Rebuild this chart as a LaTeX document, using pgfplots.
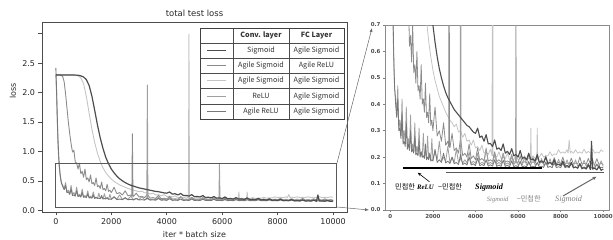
\documentclass[border=0pt]{standalone}
\usepackage{fontspec}
\setmainfont{DejaVu Sans}
\newfontfamily\cjk{Noto Sans CJK KR}
\newfontfamily\serifit{Liberation Serif}
\usepackage{pgfplots}
\usepackage{pgfplotstable}
\pgfplotsset{compat=1.18}
\usetikzlibrary{arrows.meta}
\definecolor{cA}{HTML}{4D4D4D}
\definecolor{cB}{HTML}{8C8C8C}
\definecolor{cC}{HTML}{C4C4C4}
\definecolor{cD}{HTML}{A0A0A0}
\definecolor{cE}{HTML}{777777}

\pgfplotstableread{
x y
0 2.30
200 2.30
400 2.30
600 2.30
800 2.295
900 2.285
1000 2.265
1100 2.22
1200 2.12
1300 1.94
1400 1.70
1500 1.45
1600 1.23
1700 1.05
1800 0.90
1900 0.79
2000 0.70
2100 0.635
2200 0.58
2300 0.535
2400 0.50
2500 0.47
2600 0.445
2700 0.425
2800 0.41
2900 0.395
3000 0.38
3100 0.37
3200 0.36
3300 0.35
3400 0.34
3500 0.33
3600 0.32
3700 0.315
3800 0.305
3900 0.295
4000 0.29
4100 0.31
4200 0.275
4300 0.28
4400 0.26
4500 0.285
4600 0.25
4700 0.252
4800 0.24
4900 0.265
5000 0.23
5100 0.235
5200 0.225
5300 0.25
5400 0.215
5500 0.222
5600 0.21
5700 0.232
5800 0.205
5900 0.21
6000 0.20
6100 0.225
6200 0.195
6300 0.20
6400 0.19
6500 0.215
6600 0.19
6700 0.193
6800 0.185
6900 0.21
7000 0.18
7100 0.186
7200 0.18
7300 0.2
7400 0.175
7500 0.18
7600 0.172
7700 0.19
7800 0.17
7900 0.173
8000 0.168
8100 0.185
8200 0.165
8300 0.168
8400 0.163
8500 0.18
8600 0.16
8700 0.163
8800 0.158
8900 0.175
9000 0.156
9100 0.16
9200 0.155
9300 0.17
9400 0.153
9450 0.26
9500 0.155
9600 0.158
9700 0.152
9800 0.166
9900 0.15
10000 0.155
}\tA

\pgfplotstableread{
x y
0 2.30
100 2.30
200 2.295
250 2.27
300 2.18
350 1.98
400 1.74
450 1.50
500 1.30
550 1.13
600 0.99
650 1.02
700 0.82
750 0.80
800 0.70
850 0.80
900 0.62
950 0.66
1000 0.56
1050 0.70
1100 0.52
1150 0.55
1200 0.48
1250 0.60
1300 0.45
1350 0.47
1400 0.42
1450 0.55
1500 0.40
1550 0.42
1600 0.37
1650 0.48
1700 0.35
1750 0.37
1800 0.33
1850 0.44
1900 0.32
1950 0.34
2000 0.30
2100 0.39
2200 0.28
2300 0.30
2400 0.26
2500 0.33
2600 0.245
2700 0.26
2740 0.24
2760 1.30
2780 0.24
2800 0.235
2900 0.29
3000 0.225
3100 0.235
3200 0.215
3300 0.27
3400 0.205
3500 0.215
3600 0.20
3700 0.25
3800 0.195
3900 0.205
4000 0.19
4100 0.235
4200 0.188
4300 0.195
4400 0.186
4500 0.23
4600 0.185
4700 0.19
4800 0.184
4900 0.22
5000 0.183
5100 0.19
5200 0.182
5300 0.215
5400 0.181
5500 0.186
5600 0.18
5700 0.21
5800 0.18
5900 0.185
6000 0.179
6100 0.205
6200 0.179
6300 0.183
6400 0.178
6500 0.21
6600 0.178
6700 0.182
6800 0.177
6900 0.2
7000 0.177
7100 0.18
7200 0.176
7300 0.205
7400 0.176
7500 0.18
7600 0.176
7700 0.198
7800 0.175
7900 0.18
8000 0.175
8100 0.2
8200 0.175
8300 0.178
8400 0.174
8500 0.196
8600 0.174
8700 0.178
8800 0.174
8900 0.2
9000 0.173
9100 0.177
9200 0.173
9300 0.195
9400 0.173
9500 0.176
9600 0.172
9700 0.194
9800 0.172
9900 0.176
10000 0.172
}\tB

\pgfplotstableread{
x y
0 2.30
200 2.30
400 2.30
600 2.30
700 2.295
800 2.285
900 2.25
1000 2.15
1100 1.93
1200 1.65
1300 1.38
1400 1.15
1500 0.97
1600 0.83
1700 0.72
1800 0.64
1900 0.58
2000 0.53
2100 0.49
2200 0.46
2300 0.43
2400 0.41
2500 0.39
2600 0.37
2700 0.355
2800 0.34
2900 0.33
3000 0.315
3100 0.325
3200 0.295
3300 0.30
3400 0.275
3500 0.29
3600 0.26
3700 0.265
3800 0.245
3900 0.265
4000 0.235
4100 0.24
4200 0.225
4300 0.245
4400 0.215
4500 0.22
4600 0.21
4700 0.23
4780 0.205
4800 3.00
4820 0.205
4900 0.21
5000 0.20
5100 0.22
5200 0.195
5300 0.20
5400 0.195
5500 0.215
5600 0.19
5700 0.195
5800 0.19
5900 0.21
6000 0.19
6100 0.195
6200 0.19
6300 0.205
6400 0.19
6500 0.195
6580 0.195
6600 0.31
6620 0.195
6700 0.205
6800 0.195
6880 0.20
6900 0.31
6920 0.20
7000 0.20
7100 0.215
7200 0.20
7300 0.205
7400 0.205
7500 0.22
7600 0.205
7700 0.212
7800 0.21
7900 0.228
8000 0.215
8100 0.22
8200 0.215
8300 0.228
8350 0.215
8400 0.265
8450 0.215
8500 0.222
8600 0.215
8700 0.228
8800 0.215
8900 0.22
9000 0.215
9100 0.23
9200 0.215
9300 0.222
9400 0.215
9500 0.23
9600 0.215
9700 0.22
9800 0.215
9900 0.228
10000 0.22
}\tC

\pgfplotstableread{
x y
0 2.30
25 2.00
50 1.55
75 1.15
100 0.88
125 0.72
150 0.60
175 0.52
200 0.46
250 0.42
300 0.36
350 0.47
400 0.31
450 0.34
500 0.28
550 0.42
600 0.26
650 0.30
700 0.25
750 0.39
800 0.24
850 0.27
900 0.23
950 0.36
1000 0.22
1050 0.25
1100 0.22
1150 0.33
1200 0.21
1250 0.24
1300 0.21
1350 0.31
1400 0.205
1450 0.22
1500 0.20
1550 0.29
1600 0.20
1650 0.22
1700 0.195
1750 0.28
1800 0.195
1850 0.21
1900 0.19
1950 0.27
2000 0.19
2100 0.22
2200 0.19
2300 0.26
2400 0.185
2500 0.20
2600 0.185
2700 0.24
2800 0.18
2900 0.20
3000 0.18
3100 0.23
3200 0.18
3280 0.19
3300 2.13
3320 0.19
3400 0.178
3500 0.19
3600 0.178
3700 0.22
3800 0.176
3900 0.185
4000 0.176
4100 0.215
4200 0.175
4300 0.18
4400 0.175
4500 0.235
4600 0.174
4700 0.18
4800 0.174
4900 0.21
5000 0.173
5100 0.18
5200 0.173
5300 0.215
5400 0.172
5500 0.178
5600 0.172
5700 0.205
5800 0.172
5880 0.18
5900 0.78
5920 0.18
6000 0.171
6100 0.178
6200 0.171
6300 0.2
6400 0.17
6500 0.176
6600 0.17
6700 0.2
6800 0.17
6900 0.176
7000 0.17
7100 0.195
7200 0.169
7300 0.175
7400 0.169
7500 0.194
7600 0.168
7700 0.174
7800 0.168
7900 0.192
8000 0.168
8100 0.174
8200 0.167
8300 0.19
8400 0.167
8500 0.173
8600 0.167
8700 0.19
8800 0.166
8900 0.172
9000 0.166
9100 0.188
9200 0.166
9300 0.172
9400 0.165
9500 0.19
9600 0.165
9700 0.171
9800 0.165
9900 0.186
10000 0.165
}\tD

\pgfplotstableread{
x y
0 2.42
25 2.05
50 1.60
75 1.22
100 0.95
125 0.76
150 0.63
175 0.54
200 0.47
250 0.40
300 0.35
350 0.42
400 0.30
450 0.31
500 0.27
550 0.36
600 0.25
650 0.26
700 0.24
750 0.33
800 0.23
850 0.25
900 0.225
950 0.30
1000 0.22
1050 0.23
1100 0.215
1150 0.28
1200 0.21
1250 0.215
1300 0.205
1350 0.26
1400 0.20
1450 0.22
1500 0.20
1550 0.205
1600 0.195
1650 0.25
1700 0.19
1750 0.20
1800 0.19
1850 0.215
1900 0.185
1950 0.19
2000 0.185
2100 0.23
2200 0.18
2300 0.19
2400 0.18
2500 0.215
2600 0.178
2700 0.185
2800 0.176
2900 0.20
3000 0.175
3100 0.18
3200 0.172
3300 0.21
3400 0.172
3500 0.178
3600 0.17
3700 0.2
3800 0.17
3900 0.175
4000 0.168
4100 0.196
4200 0.168
4300 0.172
4400 0.168
4500 0.19
4600 0.166
4700 0.171
4800 0.166
4900 0.19
5000 0.165
5100 0.17
5200 0.165
5300 0.188
5400 0.165
5500 0.169
5600 0.164
5700 0.186
5800 0.164
5900 0.168
6000 0.163
6100 0.185
6200 0.163
6300 0.167
6400 0.163
6500 0.184
6600 0.162
6700 0.166
6800 0.162
6900 0.18
7000 0.162
7100 0.166
7200 0.161
7300 0.182
7400 0.161
7500 0.165
7600 0.16
7700 0.18
7800 0.16
7900 0.164
8000 0.16
8100 0.178
8200 0.16
8300 0.164
8400 0.16
8500 0.178
8600 0.159
8700 0.163
8800 0.159
8900 0.176
9000 0.159
9100 0.163
9200 0.159
9300 0.176
9400 0.158
9500 0.162
9600 0.158
9700 0.174
9800 0.158
9900 0.162
10000 0.16
}\tE

\begin{document}
\begin{tikzpicture}
\path[use as bounding box] (0,0) rectangle (613bp,240bp);

% ---------- left axis ----------
\begin{axis}[
  at={(42bp,28bp)}, anchor=south west,
  scale only axis, width=305bp, height=190bp,
  xmin=-500, xmax=10500, ymin=-0.03, ymax=3.2,
  scaled x ticks=false, scaled y ticks=false,
  axis line style={black!70, line width=0.6pt},
  tick align=outside, major tick length=3.5bp,
  tick style={black!70, line width=0.6pt},
  xtick={0,2000,4000,6000,8000,10000},
  xticklabels={0,2000,4000,6000,8000,10000},
  ytick={0,0.5,1,1.5,2,2.5,3},
  yticklabels={0.0,0.5,1.0,1.5,2.0,2.5,{}},
  ticklabel style={font=\fontsize{8}{9.6}\selectfont, text=black!85},
  xtick pos=bottom, ytick pos=left,
  every axis plot/.append style={line join=round},
]
\addplot[cC, line width=0.9bp] table {\tC};
\addplot[cB, line width=0.9bp] table {\tB};
\addplot[cD, line width=0.9bp] table {\tD};
\addplot[cE, line width=0.9bp] table {\tE};
\addplot[cA, line width=1.2bp] table {\tA};
\draw[black!65, line width=0.6pt] (axis cs:-20,0.045) rectangle (axis cs:10100,0.79);
\end{axis}

% ---------- right axis ----------
\begin{axis}[
  at={(385bp,30bp)}, anchor=south west,
  scale only axis, width=224bp, height=185bp,
  xmin=-250, xmax=10270, ymin=0, ymax=0.7,
  scaled x ticks=false, scaled y ticks=false,
  axis line style={black!45, line width=0.7pt},
  tick align=outside, major tick length=2bp,
  tick style={black!50, line width=0.5pt},
  xtick={0,2000,4000,6000,8000,10000},
  xticklabels={0,2000,4000,6000,8000,10000},
  ytick={0,0.1,0.2,0.3,0.4,0.5,0.6,0.7},
  yticklabels={0.0,0.1,0.2,0.3,0.4,0.5,0.6,0.7},
  ticklabel style={font=\fontsize{5.5}{6.5}\selectfont\bfseries, text=black!70},
  xticklabel style={yshift=1bp},
  yticklabel style={xshift=1bp},
  xtick pos=bottom, ytick pos=left,
  every axis plot/.append style={line join=round},
]
\addplot[cC, line width=0.8bp] table {\tC};
\addplot[cB, line width=0.8bp] table {\tB};
\addplot[cD, line width=0.8bp] table {\tD};
\addplot[cE, line width=0.8bp] table {\tE};
\addplot[cA, line width=1.1bp] table {\tA};
\draw[black, line width=1.1bp] (axis cs:600,0.159) -- (axis cs:7100,0.159);
\draw[black!65, line width=1.6bp] (axis cs:2600,0.142) -- (axis cs:10050,0.142);
% annotation 1
\begin{scope}[every node/.style={anchor=base west, inner sep=0pt}]
\node[font=\cjk\fontsize{7.2}{8}\selectfont] at (axis cs:220,0.078) {민첩한};
\node[font=\serifit\fontsize{6.8}{8}\selectfont\bfseries\itshape] at (axis cs:1253,0.078) {ReLU};
\node[font=\cjk\fontsize{7.2}{8}\selectfont] at (axis cs:2239,0.078) {−민첩한};
\node[font=\serifit\fontsize{8.2}{9}\selectfont\bfseries\itshape] at (axis cs:3977,0.078) {Sigmoid};
% annotation 2
\node[font=\serifit\fontsize{6.6}{8}\selectfont\itshape, text=black!50] at (axis cs:4526,0.031) {Sigmoid};
\node[font=\cjk\fontsize{7.2}{8}\selectfont, text=black!50] at (axis cs:5935,0.031) {−민첩한};
\node[font=\serifit\fontsize{8.2}{9}\selectfont\itshape, text=black!50] at (axis cs:7734,0.031) {Sigmoid};
\end{scope}
\draw[-{Stealth[length=3.5bp,width=3bp]}, black, line width=0.6bp] (axis cs:1835,0.107) -- (axis cs:1290,0.141);
\draw[-{Stealth[length=4bp,width=3.5bp]}, black!60, line width=1bp] (axis cs:8110,0.053) -- (axis cs:9680,0.126);
\end{axis}

% ---------- titles and labels ----------
\node[anchor=base, font=\fontsize{8.5}{10}\selectfont, text=black!85] at (194.5bp,223.5bp) {total test loss};
\node[anchor=base, font=\fontsize{8}{9.6}\selectfont, text=black!85] at (194.5bp,2.5bp) {iter * batch size};
\node[rotate=90, font=\fontsize{8}{9.6}\selectfont, text=black!85] at (13bp,149bp) {loss};

% ---------- zoom connectors ----------
\draw[-{Latex[length=4bp,width=3bp]}, black!60, line width=0.5pt] (337bp,77bp) -- (372bp,212bp);
\draw[-{Latex[length=4bp,width=3bp]}, black!60, line width=0.5pt] (337bp,33bp) -- (369bp,30bp);

% ---------- table legend ----------
\begin{scope}[x=1bp,y=1bp]
\fill[white] (200,121) rectangle (344,212);
\foreach \yy in {197,181.8,166.6,151.4,136.2}
  \draw[black!70, line width=0.5pt] (200,\yy) -- (344,\yy);
\foreach \xx in {233,289}
  \draw[black!70, line width=0.5pt] (\xx,121) -- (\xx,212);
\draw[black!75, line width=0.6pt] (200,121) rectangle (344,212);
\begin{scope}[every node/.style={font=\cjk\fontsize{7.2}{8}\selectfont, text=black!80, inner sep=0pt}]
\node at (261,204.5) {\bfseries Conv. layer};
\node at (316.5,204.5) {\bfseries FC Layer};
\node at (261,189.4) {Sigmoid};
\node at (316.5,189.4) {Agile Sigmoid};
\node at (261,174.2) {Agile Sigmoid};
\node at (316.5,174.2) {Agile ReLU};
\node at (261,159) {Agile Sigmoid};
\node at (316.5,159) {Agile Sigmoid};
\node at (261,143.8) {ReLU};
\node at (316.5,143.8) {Agile Sigmoid};
\node at (261,128.6) {Agile ReLU};
\node at (316.5,128.6) {Agile Sigmoid};
\end{scope}
\draw[cA, line width=1.3bp] (207,189.4) -- (226,189.4);
\draw[cB, line width=1bp] (207,174.2) -- (226,174.2);
\draw[cC, line width=1bp] (207,159) -- (226,159);
\draw[cD, line width=1bp] (207,143.8) -- (226,143.8);
\draw[cE, line width=1bp] (207,128.6) -- (226,128.6);
\end{scope}
\end{tikzpicture}
\end{document}
